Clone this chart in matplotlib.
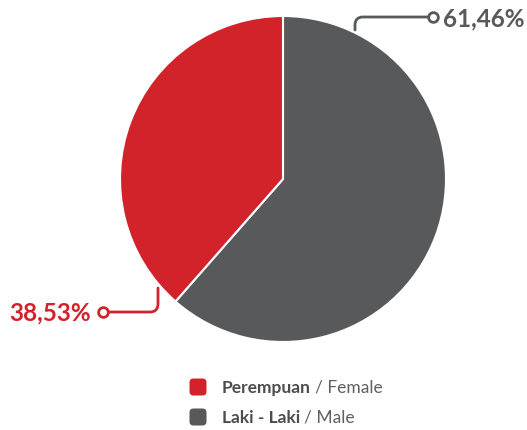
import matplotlib.pyplot as plt
from matplotlib.path import Path
from matplotlib.patches import PathPatch, FancyBboxPatch

plt.rcParams['font.family'] = ['Lato', 'DejaVu Sans']

labels_id = ["Laki - Laki", "Perempuan"]
labels_en = ["Male", "Female"]
values = [61.46, 38.53]
value_text = ["61,46%", "38,53%"]
colors = ["#58595b", "#d2232a"]

W, H = 527, 431
fig = plt.figure(figsize=(W / 100, H / 100), dpi=100)
ax = fig.add_axes([0, 0, 1, 1])
ax.set_xlim(0, W)
ax.set_ylim(0, H)
ax.set_aspect('equal')
ax.axis('off')

def py(y):
    # pixel-from-top to data y
    return H - y

ax.pie(values, colors=colors, startangle=90, counterclock=False,
       center=(283, py(180)), radius=163,
       wedgeprops=dict(edgecolor='white', linewidth=1.5))
ax.set_xlim(0, W)
ax.set_ylim(0, H)


def leader(x0, y0, x1, y1, color, r=8):
    # vertical from (x0,y0) to y1, then horizontal to x1, rounded corner
    sy = 1 if y1 > y0 else -1
    sx = 1 if x1 > x0 else -1
    verts = [(x0, y0), (x0, y1 - sy * r), (x0, y1), (x0 + sx * r, y1), (x1, y1)]
    codes = [Path.MOVETO, Path.LINETO, Path.CURVE3, Path.CURVE3, Path.LINETO]
    ax.add_patch(PathPatch(Path(verts, codes), fill=False, edgecolor=color,
                           linewidth=2, capstyle='round'))
    ax.plot([x1], [y1], marker='o', markersize=7, markerfacecolor='white',
            markeredgecolor=color, markeredgewidth=2)


# male label (top right)
leader(355, py(31), 433, py(18), colors[0])
ax.text(443, py(19), value_text[0], color=colors[0], fontsize=17.5,
        fontweight='bold', ha='left', va='center')

# female label (bottom left)
leader(158, py(289), 103, py(313), colors[1])
ax.text(91, py(313), value_text[1], color=colors[1], fontsize=17.5,
        fontweight='bold', ha='right', va='center')

# legend
legend_rows = [(1, 388), (0, 418)]
for idx, yy in legend_rows:
    ax.add_patch(FancyBboxPatch((198 - 7, py(yy) - 7), 14, 14,
                                boxstyle="round,pad=1.5,rounding_size=4",
                                facecolor=colors[idx], edgecolor='none'))
    t1 = ax.text(222, py(yy), labels_id[idx], color='#4d4d4f', fontsize=12.5,
                 fontweight='bold', ha='left', va='center')
    ax.annotate("/ " + labels_en[idx], xy=(1, 0.5), xycoords=t1,
                xytext=(4, 0), textcoords='offset pixels',
                color='#5f6062', fontsize=12.5, ha='left', va='center')

fig.savefig("out.png", dpi=100)
